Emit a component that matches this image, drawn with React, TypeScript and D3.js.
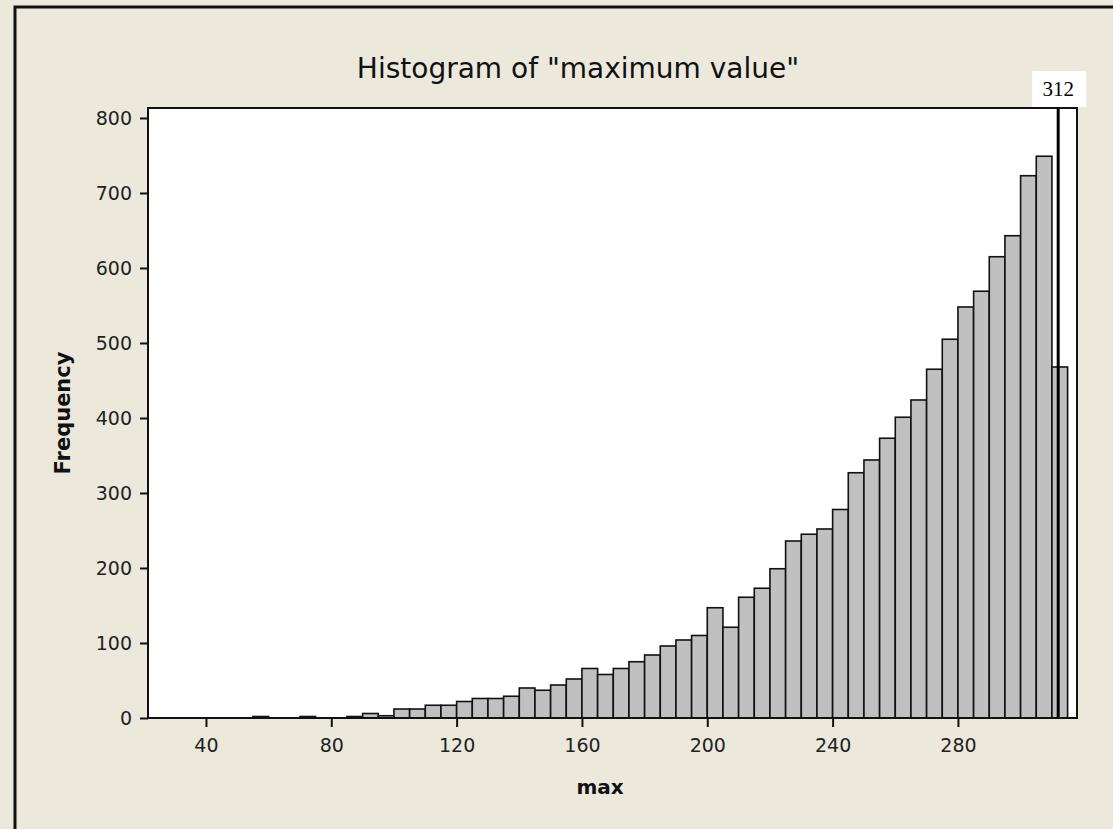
import React from 'react';
import * as d3 from 'd3';

// bin starts (width 5) and their counts
const binStarts = [
  55, 60, 65, 70, 75, 80, 85, 90, 95, 100, 105, 110, 115, 120, 125, 130, 135,
  140, 145, 150, 155, 160, 165, 170, 175, 180, 185, 190, 195, 200, 205, 210,
  215, 220, 225, 230, 235, 240, 245, 250, 255, 260, 265, 270, 275, 280, 285,
  290, 295, 300, 305, 310,
];
const counts = [
  2, 0, 0, 2, 0, 0, 2, 6, 3, 12, 12, 17, 17, 22, 26, 26, 29, 40, 37, 44, 52,
  66, 58, 66, 75, 84, 96, 104, 110, 147, 121, 161, 173, 199, 236, 245, 252,
  278, 327, 344, 373, 401, 424, 465, 505, 548, 569, 615, 643, 723, 749, 468,
];
const binWidth = 5;
const xTicks = [40, 80, 120, 160, 200, 240, 280];
const yTicks = [0, 100, 200, 300, 400, 500, 600, 700, 800];
const refValue = 312;

const W = 1113;
const H = 829;
const plot = { left: 148, right: 1077, top: 108, bottom: 718 };
const bg = '#ECE9DC';
const font = '"DejaVu Sans", sans-serif';

function draw(el: SVGSVGElement) {
  const svg = d3.select(el);
  svg.selectAll('*').remove();

  const x = d3.scaleLinear([21.5, 318], [plot.left, plot.right]);
  const y = d3.scaleLinear([0, 813.3], [plot.bottom, plot.top]);

  svg.append('rect').attr('width', W).attr('height', H).attr('fill', bg);

  // window edge at top/left
  svg
    .append('path')
    .attr('d', `M15,${H} V7 H${W}`)
    .attr('fill', 'none')
    .attr('stroke', '#111')
    .attr('stroke-width', 3);

  svg
    .append('rect')
    .attr('x', plot.left)
    .attr('y', plot.top)
    .attr('width', plot.right - plot.left)
    .attr('height', plot.bottom - plot.top)
    .attr('fill', 'white');

  const data = binStarts.map((b, i) => ({ b, v: counts[i] })).filter((d) => d.v > 0);

  svg
    .append('g')
    .selectAll('rect')
    .data(data)
    .enter()
    .append('rect')
    .attr('x', (d) => x(d.b))
    .attr('width', (d) => x(d.b + binWidth) - x(d.b))
    .attr('y', (d) => y(d.v))
    .attr('height', (d) => y(0) - y(d.v))
    .attr('fill', '#C0C0C0')
    .attr('stroke', '#111')
    .attr('stroke-width', 1.6);

  // reference line
  svg
    .append('line')
    .attr('x1', x(refValue))
    .attr('x2', x(refValue))
    .attr('y1', plot.top)
    .attr('y2', plot.bottom)
    .attr('stroke', 'black')
    .attr('stroke-width', 3);

  svg
    .append('rect')
    .attr('x', x(refValue) - 26)
    .attr('y', 71)
    .attr('width', 54)
    .attr('height', 36)
    .attr('fill', 'white');
  svg
    .append('text')
    .attr('x', x(refValue))
    .attr('y', 96)
    .attr('text-anchor', 'middle')
    .attr('font-family', '"Liberation Serif", serif')
    .attr('font-size', 21)
    .text(String(refValue));

  // frame
  svg
    .append('rect')
    .attr('x', plot.left)
    .attr('y', plot.top)
    .attr('width', plot.right - plot.left)
    .attr('height', plot.bottom - plot.top)
    .attr('fill', 'none')
    .attr('stroke', '#111')
    .attr('stroke-width', 2);

  const yAxis = svg
    .append('g')
    .attr('transform', `translate(${plot.left},0)`)
    .call(d3.axisLeft(y).tickValues(yTicks).tickSize(8).tickPadding(8));
  const xAxis = svg
    .append('g')
    .attr('transform', `translate(0,${plot.bottom})`)
    .call(d3.axisBottom(x).tickValues(xTicks).tickSize(9).tickPadding(12));

  [yAxis, xAxis].forEach((g) => {
    g.select('.domain').remove();
    g.selectAll('line').attr('stroke', '#111').attr('stroke-width', 2);
    g.selectAll('text')
      .attr('font-family', font)
      .attr('font-size', 19)
      .attr('fill', '#222');
  });

  svg
    .append('text')
    .attr('x', 578)
    .attr('y', 78)
    .attr('text-anchor', 'middle')
    .attr('font-family', font)
    .attr('font-size', 28)
    .attr('fill', '#111')
    .text('Histogram of "maximum value"');

  svg
    .append('text')
    .attr('transform', `translate(70,${(plot.top + plot.bottom) / 2}) rotate(-90)`)
    .attr('text-anchor', 'middle')
    .attr('font-family', font)
    .attr('font-weight', 'bold')
    .attr('font-size', 21)
    .attr('fill', '#111')
    .text('Frequency');

  svg
    .append('text')
    .attr('x', 600)
    .attr('y', 794)
    .attr('text-anchor', 'middle')
    .attr('font-family', font)
    .attr('font-weight', 'bold')
    .attr('font-size', 20)
    .attr('fill', '#111')
    .text('max');
}

export default function App() {
  const ref = React.useRef<SVGSVGElement>(null);
  React.useEffect(() => {
    if (ref.current) draw(ref.current);
  }, []);
  return (
    <svg
      ref={ref}
      width={W}
      height={H}
      style={{ position: 'absolute', left: 0, top: 0, display: 'block' }}
    />
  );
}
